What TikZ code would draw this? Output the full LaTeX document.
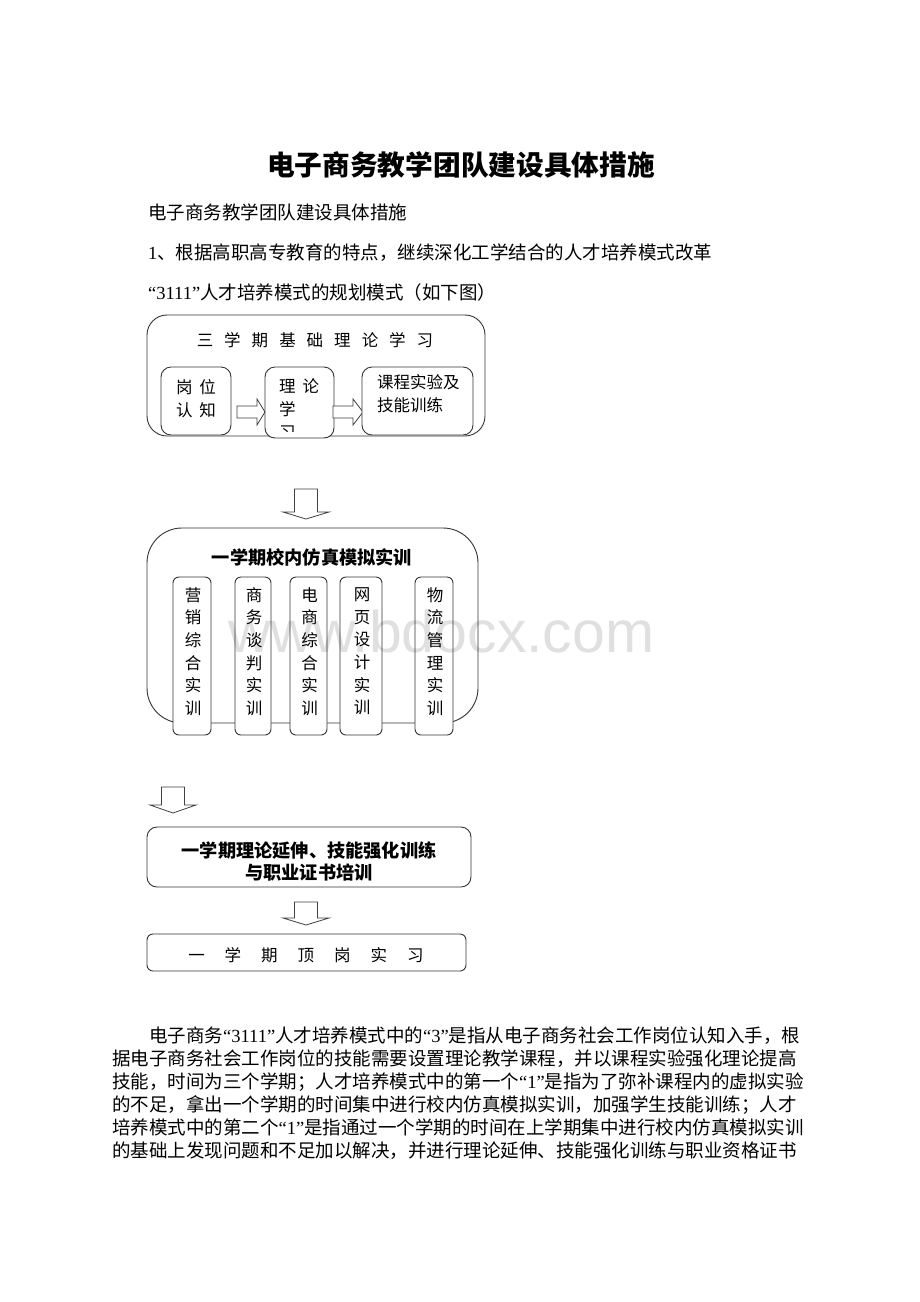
\documentclass[tikz,border=0pt]{standalone}
\usepackage{fontspec}
\setmainfont{Noto Sans CJK SC}
\newfontfamily\lat{Liberation Serif}
\newfontfamily\wmfont{Liberation Sans}
\XeTeXlinebreaklocale "zh"
\XeTeXlinebreakskip=0pt plus 1fil
\usetikzlibrary{positioning}

\newcommand{\gap}[1]{\hspace*{#1pt}}
% block arrows: centre x, top, head base, tip
\newcommand{\dnarrow}[4]{%
  \draw[blockarrow] (#1-11.5,#2) -- (#1+11.5,#2) -- (#1+11.5,#3) -- (#1+23,#3) --
    (#1,#4) -- (#1-23,#3) -- (#1-11.5,#3) -- cycle;}
% centre y, left, head base, tip
\newcommand{\rtarrow}[4]{%
  \draw[blockarrow] (#2,#1-6) -- (#3,#1-6) -- (#3,#1-13) -- (#4,#1) --
    (#3,#1+13) -- (#3,#1+6) -- (#2,#1+6) -- cycle;}

\begin{document}
\begin{tikzpicture}[x=1pt,y=-1pt,
  box/.style={draw=black!80,line width=0.9pt,fill=white},
  blockarrow/.style={draw=black!75,line width=0.8pt,fill=white},
  lbl/.style={inner sep=0pt,font=\fontsize{16.5}{23}\selectfont},
  boldlbl/.style={inner sep=0pt,font=\fontsize{18.2}{22}\selectfont\bfseries},
  coltext/.style={inner sep=0pt,align=center,font=\fontsize{16.5}{22.6}\selectfont},
  bodyline/.style={anchor=base west,inner sep=0pt,font=\fontsize{18.5}{23}\selectfont}]
\fill[white] (0,0) rectangle (920,1302);
\useasboundingbox (0,0) rectangle (920,1302);

\draw (461,165) node[inner sep=0pt,font=\fontsize{27.7}{30}\selectfont\bfseries] (title) {电子商务教学团队建设具体措施};
\draw (148,219) node[bodyline] (head) {电子商务教学团队建设具体措施};
\draw (148,259) node[bodyline] (point) {{\lat 1}、根据高职高专教育的特点，继续深化工学结合的人才培养模式改革};
\draw (148,299) node[bodyline] (lead) {{\lat “3111”}人才培养模式的规划模式（如下图）};

% three terms of theory
\draw[box,rounded corners=20] (147,315) rectangle (485,436);
\draw (315,340) node[lbl] (theory) {三\gap{11}学\gap{11}期\gap{11}基\gap{11}础\gap{11}理\gap{11}论\gap{11}学\gap{11}习};
\draw[box,rounded corners=10] (161,367) rectangle (231,435);
\draw (196,399) node[lbl,align=center] (post) {岗\gap{7}位\\认\gap{7}知};
\rtarrow{412}{237}{257}{265}
\draw[box,rounded corners=10] (265,367) rectangle (334,438);
\begin{scope}
\clip (266,368) rectangle (333,431);
\draw (279,378) node[lbl,anchor=north west,align=left] (study) {理\gap{7}论\\学\\习};
\end{scope}
\rtarrow{412}{333}{353}{363}
\draw[box,rounded corners=10] (362,367) rectangle (473,435);
\draw (377,374) node[lbl,anchor=north west,align=left] (lab) {课程实验及\\技能训练};

\dnarrow{306}{489}{512}{519}

% one term of simulation
\draw[box,rounded corners=35] (147,528) rectangle (478,723);
\draw (312,557) node[boldlbl] (sim) {一学期校内仿真模拟实训};
\foreach \xa/\xb/\txt [count=\i] in {173/211/{营\\销\\综\\合\\实\\训},
    235/271/{商\\务\\谈\\判\\实\\训}, 290/327/{电\\商\\综\\合\\实\\训},
    340/382/{网\\页\\设\\计\\实\\训}, 415/453/{物\\流\\管\\理\\实\\训}}
{
	\draw[box,rounded corners=6] (\xa,577) rectangle (\xb,735);
	\draw ({(\xa+\xb)/2+1},651.5) node[coltext] (course\i) {\txt};
}

\dnarrow{173}{787}{805}{813}

\draw[box,rounded corners=10] (147,827) rectangle (471,887);
\draw (309,861) node[boldlbl,align=center] (extend) {一学期理论延伸、技能强化训练\\与职业证书培训};

\dnarrow{306}{902}{918}{925}

\draw[box,rounded corners=6] (147,934) rectangle (466,971);
\draw (306,955) node[lbl] (intern) {一\gap{20}学\gap{20}期\gap{20}顶\gap{20}岗\gap{20}实\gap{20}习};

\draw (149,1042) node[bodyline] (par1) {\makebox[649pt][s]{电子商务{\lat “3111”}人才培养模式中的{\lat “3”}是指从电子商务社会工作岗位认知入手，根}};
\draw (112,1065) node[bodyline] (par2) {\makebox[686pt][s]{据电子商务社会工作岗位的技能需要设置理论教学课程，并以课程实验强化理论提高}};
\draw (112,1088) node[bodyline] (par3) {\makebox[686pt][s]{技能，时间为三个学期；人才培养模式中的第一个{\lat “1”}是指为了弥补课程内的虚拟实验}};
\draw (112,1111) node[bodyline] (par4) {\makebox[686pt][s]{的不足，拿出一个学期的时间集中进行校内仿真模拟实训，加强学生技能训练；人才}};
\draw (112,1134) node[bodyline] (par5) {\makebox[686pt][s]{培养模式中的第二个{\lat “1”}是指通过一个学期的时间在上学期集中进行校内仿真模拟实训}};
\draw (112,1157) node[bodyline] (par6) {\makebox[686pt][s]{的基础上发现问题和不足加以解决，并进行理论延伸、技能强化训练与职业资格证书}};

\draw (228,652) node[anchor=base west,inner sep=0pt,text=black,text opacity=0.12,font=\wmfont\fontsize{59}{60}\selectfont] (mark) {www.bdocx.com};
\end{tikzpicture}
\end{document}
